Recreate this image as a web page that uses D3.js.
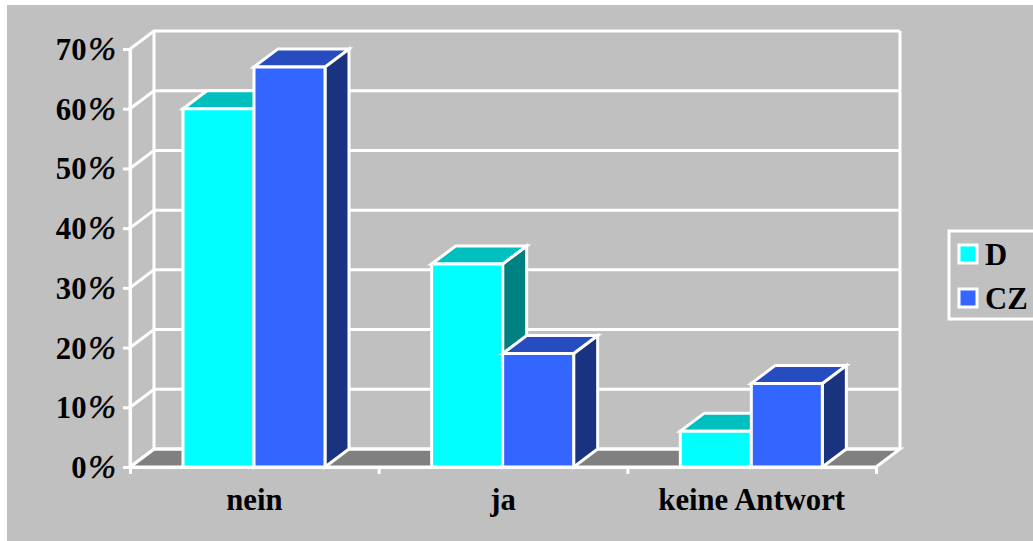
<!DOCTYPE html>
<html>
<head>
<meta charset="utf-8">
<script src="https://cdn.jsdelivr.net/npm/d3@7"></script>
<style>
  html, body { margin: 0; padding: 0; background: #fff; }
  svg { display: block; }
  text { font-family: "Liberation Serif", serif; font-weight: bold; fill: #000; }
</style>
</head>
<body>
<div id="chart"></div>
<script>
var categories = ["nein", "ja", "keine Antwort"];
var seriesNames = ["D", "CZ"];
var valuesD = [60, 34, 6];
var valuesCZ = [67, 19, 14];
var yTicks = [0, 10, 20, 30, 40, 50, 60, 70];

var frontColors = { D: "#00ffff", CZ: "#3366ff" };
var topColors = { D: "#00bfbf", CZ: "#264cbf" };
var sideColors = { D: "#008080", CZ: "#1a3380" };

var width = 1033, height = 541;
var dx = 24, dy = -18; // offset of the back wall from the front plane
var fontSize = 30.7;

var svg = d3.select("#chart").append("svg")
  .attr("width", width)
  .attr("height", height);

svg.append("rect")
  .attr("x", 7).attr("y", 5)
  .attr("width", width - 7).attr("height", height - 5)
  .attr("fill", "#c0c0c0");

var x = d3.scaleBand().domain(categories).range([130, 876]);
var inner = d3.scaleBand().domain(seriesNames).range([53, 195]);
var y = d3.scaleLinear().domain([0, 70]).range([467, 49]);

function poly(g, pts, fill) {
  return g.append("polygon")
    .attr("points", pts.map(function(p) { return p.join(","); }).join(" "))
    .attr("fill", fill)
    .attr("stroke", "#fff")
    .attr("stroke-width", 3)
    .attr("stroke-linejoin", "miter");
}

var x0 = x.range()[0], x1 = x.range()[1];

// floor
poly(svg.append("g"), [[x0, y(0)], [x0 + dx, y(0) + dy], [x1 + dx, y(0) + dy], [x1, y(0)]], "#808080");

// walls and gridlines
var grid = svg.append("g")
  .attr("fill", "none")
  .attr("stroke", "#fff")
  .attr("stroke-width", 3);

yTicks.forEach(function(t) {
  grid.append("path")
    .attr("d", "M" + x0 + "," + y(t) + "L" + (x0 + dx) + "," + (y(t) + dy) + "L" + (x1 + dx) + "," + (y(t) + dy));
});
grid.append("path").attr("d", "M" + x0 + "," + y(70) + "V" + y(0));
grid.append("path").attr("d", "M" + (x0 + dx) + "," + (y(70) + dy) + "V" + (y(0) + dy));
grid.append("path").attr("d", "M" + (x1 + dx) + "," + (y(70) + dy) + "V" + (y(0) + dy));

// bars
var rows = [];
categories.forEach(function(c, i) {
  rows.push({ cat: c, name: "D", value: valuesD[i] });
  rows.push({ cat: c, name: "CZ", value: valuesCZ[i] });
});

var bars = svg.append("g");
rows.forEach(function(d) {
  var l = x(d.cat) + inner(d.name);
  var r = l + inner.bandwidth();
  var t = y(d.value), b = y(0);
  poly(bars, [[r, b], [r + dx, b + dy], [r + dx, t + dy], [r, t]], sideColors[d.name]);
  poly(bars, [[l, t], [l + dx, t + dy], [r + dx, t + dy], [r, t]], topColors[d.name]);
  poly(bars, [[l, b], [l, t], [r, t], [r, b]], frontColors[d.name]);
});

// axes
var yAxis = svg.append("g")
  .attr("transform", "translate(" + x0 + ",0)")
  .call(d3.axisLeft(y).tickValues(yTicks).tickSize(7).tickPadding(14).tickFormat(""));

var xAxis = svg.append("g")
  .attr("transform", "translate(0," + y(0) + ")")
  .call(d3.axisBottom(d3.scalePoint().domain(d3.range(categories.length + 1)).range([x0, x1])).tickSize(7).tickFormat(""));

[yAxis, xAxis].forEach(function(a) {
  a.selectAll(".domain").attr("stroke", "#fff").attr("stroke-width", 3);
  a.selectAll(".tick line").attr("stroke", "#fff").attr("stroke-width", 3);
});

// the percent sign is lighter and slanted in the original, so it gets its own tspan
var yLabels = svg.append("g").selectAll("text")
  .data(yTicks)
  .join("text")
  .attr("x", 116)
  .attr("y", function(d) { return y(d) + 11; })
  .attr("text-anchor", "end")
  .attr("font-size", fontSize);
yLabels.append("tspan").text(function(d) { return d; });
yLabels.append("tspan")
  .attr("dx", 2)
  .attr("font-size", 33)
  .attr("font-style", "italic")
  .attr("font-weight", "normal")
  .attr("stroke", "#000")
  .attr("stroke-width", 0.5)
  .text("%");

svg.append("g").selectAll("text")
  .data(categories)
  .join("text")
  .attr("x", function(d) { return x(d) + x.bandwidth() / 2; })
  .attr("y", 510)
  .attr("text-anchor", "middle")
  .attr("font-size", fontSize)
  .text(function(d) { return d; });

// legend
var legend = svg.append("g");
legend.append("rect")
  .attr("x", 949).attr("y", 231)
  .attr("width", 90).attr("height", 88)
  .attr("fill", "#c0c0c0").attr("stroke", "#fff").attr("stroke-width", 3);

var legendY = d3.scalePoint().domain(seriesNames).range([254, 298]);
seriesNames.forEach(function(n) {
  legend.append("rect")
    .attr("x", 959).attr("y", legendY(n) - 9)
    .attr("width", 18).attr("height", 18)
    .attr("fill", frontColors[n]).attr("stroke", "#fff").attr("stroke-width", 3);
  legend.append("text")
    .attr("x", 985).attr("y", legendY(n) + 11)
    .attr("font-size", fontSize)
    .text(n);
});
</script>
</body>
</html>
